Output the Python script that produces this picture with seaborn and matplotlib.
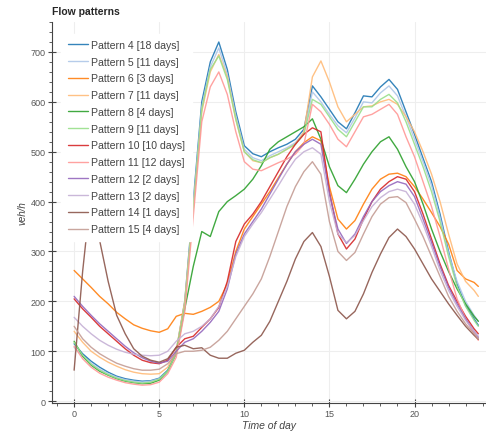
import numpy as np
import pandas as pd
import seaborn as sns
import matplotlib.pyplot as plt
from matplotlib.ticker import MultipleLocator

# half-hour samples, last one at 23:45
hours = [i * 0.5 for i in range(48)] + [23.75]

labels = ['Pattern 4 [18 days]', 'Pattern 5 [11 days]', 'Pattern 6 [3 days]',
          'Pattern 7 [11 days]', 'Pattern 8 [4 days]', 'Pattern 9 [11 days]',
          'Pattern 10 [10 days]', 'Pattern 11 [12 days]', 'Pattern 12 [2 days]',
          'Pattern 13 [2 days]', 'Pattern 14 [1 days]', 'Pattern 15 [4 days]']

p4 = [115, 95, 80, 68, 58, 50, 45, 42, 40, 41, 46, 62, 100, 200, 400, 600, 680, 720, 665, 580,
      512, 496, 490, 500, 508, 515, 525, 545, 632, 610, 585, 560, 546, 578, 612, 610, 630, 645,
      625, 580, 535, 487, 440, 375, 300, 235, 192, 165, 152]
p5 = [108, 90, 76, 64, 55, 48, 43, 40, 38, 40, 45, 60, 98, 195, 390, 590, 670, 708, 655, 572,
      505, 488, 482, 492, 500, 508, 518, 538, 620, 600, 575, 552, 538, 568, 600, 598, 618, 632,
      612, 570, 525, 480, 432, 368, 296, 240, 200, 172, 160]
p6 = [262, 245, 228, 210, 195, 178, 165, 153, 146, 141, 138, 145, 170, 176, 174, 180, 188, 200,
      235, 300, 345, 370, 395, 420, 448, 475, 500, 518, 530, 522, 430, 365, 345, 362, 395, 425,
      445, 455, 457, 450, 430, 405, 378, 350, 315, 262, 245, 238, 230]
p7 = [140, 118, 100, 88, 78, 70, 63, 58, 55, 54, 55, 68, 102, 200, 385, 580, 660, 695, 650, 565,
      500, 482, 478, 488, 495, 505, 515, 540, 650, 682, 640, 590, 560, 575, 590, 592, 600, 605,
      595, 570, 540, 500, 455, 400, 335, 275, 240, 222, 210]
p8 = [120, 90, 72, 60, 52, 45, 40, 37, 35, 36, 42, 60, 95, 185, 270, 340, 330, 380, 400, 412,
      425, 445, 472, 505, 520, 530, 540, 550, 566, 525, 470, 432, 418, 445, 475, 500, 520, 530,
      505, 470, 440, 395, 345, 300, 260, 225, 195, 170, 160]
p9 = [118, 92, 74, 62, 53, 46, 41, 38, 36, 38, 44, 60, 96, 192, 385, 585, 665, 692, 645, 565,
      500, 484, 478, 488, 495, 505, 515, 535, 605, 595, 570, 545, 530, 560, 590, 590, 605, 615,
      598, 560, 515, 470, 420, 360, 290, 230, 190, 162, 150]
p10 = [205, 185, 168, 150, 135, 120, 105, 92, 82, 77, 75, 82, 108, 125, 130, 148, 165, 188, 240,
       320, 355, 375, 400, 430, 460, 490, 515, 535, 548, 540, 420, 335, 305, 325, 365, 400, 425,
       440, 450, 445, 420, 375, 325, 275, 232, 200, 170, 145, 135]
p11 = [110, 85, 68, 56, 48, 42, 37, 34, 32, 33, 38, 55, 88, 180, 370, 560, 630, 660, 615, 540,
       480, 465, 462, 470, 478, 485, 495, 515, 595, 580, 555, 525, 510, 540, 570, 575, 585, 595,
       575, 530, 490, 440, 390, 330, 265, 205, 165, 135, 122]
p12 = [210, 190, 172, 155, 140, 125, 110, 97, 87, 80, 76, 80, 100, 118, 125, 140, 158, 180, 225,
       295, 335, 360, 385, 415, 445, 475, 500, 515, 525, 515, 415, 345, 316, 335, 370, 400, 420,
       432, 440, 435, 410, 365, 318, 270, 228, 195, 165, 140, 128]
p13 = [168, 150, 135, 122, 112, 104, 98, 94, 92, 91, 92, 100, 120, 135, 140, 150, 165, 190, 230,
       290, 330, 355, 378, 405, 432, 460, 485, 500, 508, 495, 400, 335, 318, 332, 362, 390, 408,
       420, 425, 420, 395, 355, 310, 262, 222, 190, 162, 140, 130]
p14 = [62, 260, 420, 322, 240, 172, 135, 105, 90, 82, 78, 85, 108, 112, 105, 107, 92, 86, 86, 96,
       102, 118, 132, 160, 200, 240, 285, 320, 338, 310, 250, 182, 165, 180, 215, 258, 295, 328,
       345, 330, 305, 275, 245, 220, 195, 172, 150, 132, 124]
p15 = [150, 125, 108, 95, 85, 76, 70, 65, 62, 62, 64, 75, 95, 100, 100, 102, 108, 122, 140, 165,
       190, 215, 245, 290, 340, 390, 430, 460, 480, 455, 360, 300, 282, 298, 335, 370, 395, 408,
       410, 398, 365, 330, 290, 250, 210, 180, 155, 135, 125]

series = [p4, p5, p6, p7, p8, p9, p10, p11, p12, p13, p14, p15]

df = pd.concat([pd.DataFrame({'hour': hours, 'flow': s, 'pattern': lab})
                for lab, s in zip(labels, series)], ignore_index=True)

sns.set_style('ticks')
plt.rcParams['font.family'] = ['Liberation Sans', 'DejaVu Sans']

fig = plt.figure(figsize=(4.86, 4.35), dpi=100)
ax = fig.add_axes([0.107, 0.071, 0.893, 0.876])

pal = sns.color_palette('tab20', 12)
sns.lineplot(data=df, x='hour', y='flow', hue='pattern', palette=pal,
             linewidth=1.0, alpha=0.9, ax=ax)

ax.set_xlim(-1.3, 24.2)
ax.set_ylim(-4, 760)
ax.xaxis.set_major_locator(MultipleLocator(5))
ax.xaxis.set_minor_locator(MultipleLocator(1))
ax.yaxis.set_major_locator(MultipleLocator(100))
ax.yaxis.set_minor_locator(MultipleLocator(20))
ax.tick_params(which='major', direction='inout', length=6, width=0.8, pad=1.5,
               labelsize=6.5, labelcolor='#555555', color='#444444')
ax.tick_params(which='minor', direction='out', length=2.5, width=0.6, color='#444444')
ax.grid(True, which='major', color='#eeeeee', linewidth=0.8)
for side in ['top', 'right']:
    ax.spines[side].set_visible(False)
for side in ['left', 'bottom']:
    ax.spines[side].set_color('#444444')
    ax.spines[side].set_linewidth(0.8)

ax.set_xlabel('Time of day', fontsize=7.5, style='italic', color='#444444', labelpad=1)
ax.set_ylabel('veh/h', fontsize=7, style='italic', color='#444444', labelpad=2)
ax.set_title('Flow patterns', fontsize=7.5, fontweight='bold', loc='left', pad=6)

leg = ax.legend(loc='upper left', bbox_to_anchor=(0.014, 0.978), fontsize=7.6,
                frameon=True, framealpha=1, facecolor='white', edgecolor='white',
                handlelength=1.9, handletextpad=0.35, labelspacing=0.64,
                borderpad=0.6, borderaxespad=0.3)
for t in leg.get_texts():
    t.set_color('#444444')

fig.savefig('out.png', dpi=100)
